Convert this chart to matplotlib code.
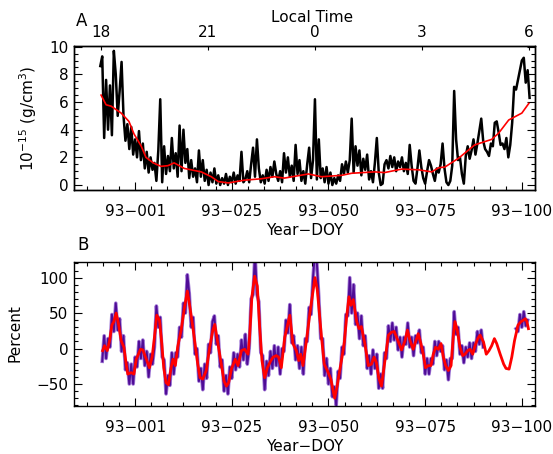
"""
Two-panel plot: density (A) and percent deviation (B) vs Year-DOY, local time on top.
Output: out.png (553x454)
"""

import numpy as np
import matplotlib.pyplot as plt
from matplotlib.ticker import MultipleLocator, FixedLocator, NullLocator

nan = np.nan

# ---- panel A: density, 10^-15 g/cm^3 (0.5-day samples from day -9; day 0 = 93-001) ----
dens_start, dens_step = -9.0, 0.5
dens_raw = [
    8.6, 9.3, 3.4, 7.6, 4.0, 7.2, 3.6, 9.7, 8.0, 5.0,
    6.8, 8.9, 5.0, 3.2, 4.4, 2.6, 4.2, 2.2, 3.3, 2.0,
    3.9, 1.8, 3.0, 1.2, 2.4, 0.9, 2.0, 1.1, 1.6, 0.3,
    2.5, 6.2, 0.2, 2.8, 0.8, 2.1, 1.0, 3.4, 1.2, 2.3,
    0.6, 4.3, 1.0, 4.0, 1.6, 2.6, 0.5, 1.8, 0.6, 1.2,
    0.2, 2.5, 0.6, 1.8, 0.3, 1.1, 0.0, 0.9, 0.2, 1.2,
    0.1, 0.7, 0.0, 0.5, 0.1, 0.8, 0.0, 0.6, 0.2, 0.9,
    0.1, 0.7, 0.3, 2.4, 0.2, 0.4, 1.0, 0.2, 1.5, 2.7,
    0.6, 3.3, 1.2, 0.2, 0.7, 0.1, 1.1, 0.3, 1.3, 0.6,
    1.7, 0.8, 0.3, 1.0, 0.2, 2.3, 0.9, 2.0, 0.6, 1.4,
    0.3, 2.9, 0.8, 1.8, 0.3, 1.0, 0.1, 1.5, 2.7, 0.5,
    1.8, 6.2, 0.4, 3.3, 0.5, 1.2, 0.2, 1.3, 0.1, 0.9,
    0.0, 0.5, 0.1, 0.7, 0.3, 1.5, 0.8, 1.7, 0.9, 1.8,
    4.8, 0.9, 2.8, 1.4, 2.5, 0.7, 1.9, 1.1, 2.2, 0.4,
    1.0, 0.2, 1.6, 3.4, 0.9, 0.0, 0.1, 1.5, 1.8, 1.2,
    2.1, 1.3, 2.0, 1.0, 1.7, 1.3, 2.0, 1.0, 1.6, 0.8,
    2.9, 1.4, 0.3, 0.1, 1.2, 2.5, 1.3, 0.5, 0.1, 1.0,
    1.8, 1.4, 0.8, 0.3, 1.2, 0.9, 1.5, 3.0, 1.2, 0.2,
    0.0, 0.3, 1.4, 6.8, 3.3, 1.8, 2.0, 0.8, 0.1, 2.1,
    2.8, 1.9, 2.5, 3.3, 2.2, 3.0, 3.9, 4.8, 3.2, 2.6,
    2.4, 2.1, 3.0, 2.8, 4.5, 4.6, 3.8, 2.9, 3.0, 2.6,
    3.4, 2.0, 2.9, 4.5, 7.1, 6.9, 7.6, 8.3, 9.0, 9.2,
    7.4, 8.3, 6.3,
]
dens_smooth_day = [-8.8, -7.5, -6.2, -3.6, -1.6, -0.3, 1.6, 2.8, 4.7, 6.7,
                   8.5, 10.1, 12.7, 17.1, 19.7, 21.5, 24.1, 28.2, 32.6, 36.0,
                   38.6, 44.8, 48.2, 53.4, 56.0, 61.9, 64.5, 68.9, 73.3, 76.7,
                   78.5, 80.1, 83.7, 87.8, 92.2, 94.0, 96.6, 100.0, 101.8]
dens_smooth = [6.5, 5.8, 5.7, 5.2, 4.6, 3.7, 2.8, 2.0, 1.6, 1.35,
               1.4, 1.6, 1.2, 0.95, 0.6, 0.25, 0.15, 0.35, 0.45, 0.6,
               0.5, 0.8, 0.6, 0.7, 0.85, 0.95, 0.9, 1.15, 1.1, 0.95,
               1.25, 1.3, 1.95, 2.9, 3.3, 3.75, 4.7, 5.2, 5.9]

# ---- panel B: percent deviation (0.5-day samples from day -8.5, gap near day 91-98) ----
pct_start, pct_step = -8.5, 0.5
pct_raw = [
    -18, 18, -14, 14, 2, 48, 24, 64, 26, 42,
    -4, 18, -30, -20, -50, -22, -50, -12, -26, 10,
    -14, 12, -24, -4, -40, -8, -22, 2, 60, 30,
    44, -12, -16, -64, -38, -52, -6, -36, -6, -12,
    30, 16, 64, 50, 104, 78, 30, 44, -8, 0,
    -46, -28, -58, -22, -42, 6, -6, 38, 46, 6,
    18, -26, -16, -60, -38, -64, -26, -42, -6, -30,
    -8, -26, 12, -16, 20, -22, 0, 70, 76, 135,
    76, 66, -6, -10, -58, -18, -38, -4, -28, 4,
    -24, 2, -36, 0, -4, 40, 22, 62, 8, 18,
    -16, 4, -28, 2, -36, 14, 10, 58, 48, 100,
    135, 120, 72, 14, 14, -38, -14, -50, -28, -68,
    -54, -80, -32, -42, 2, -8, 48, 46, 100, 50,
    90, 34, 50, 14, 46, 4, 18, -28, -10, -36,
    -2, -28, -8, -56, -36, -56, -6, -14, 32, 10,
    36, 12, 30, -2, 16, -12, 16, 6, 36, 2,
    16, -10, 18, 8, 26, -6, 2, -36, -14, -36,
    -14, -22, 10, -10, 10, -4, 4, -30, -16, -44,
    -14, -14, 52, 20, 30, -8, 4, -20, 2, -12,
    8, -14, 8, -4, 24, 6, 26, 2,
    nan, nan, nan, nan, nan, nan, nan, nan,
    nan, nan, nan, nan, nan, nan, nan, nan,
    28, 24, 48, 30, 52, 32, 40,
]
pct_smooth_day = [
    -8.4, -7.9, -7.2, -6.6, -6.0, -5.5, -4.9, -4.3, -3.6, -2.9,
    -2.3, -1.9, -1.0, -0.3, 0.3, 1.4, 2.0, 2.9, 3.7, 4.4,
    5.0, 5.6, 6.3, 6.9, 7.4, 8.0, 8.6, 9.3, 9.8, 10.4,
    11.0, 11.9, 12.8, 13.5, 14.1, 14.9, 15.6, 16.2, 16.8, 17.5,
    18.4, 19.3, 20.1, 20.6, 21.2, 22.3, 23.0, 23.6, 24.2, 24.9,
    25.9, 26.6, 27.5, 28.3, 29.2, 29.6, 30.2, 30.9, 31.6, 32.2,
    32.8, 33.5, 34.2, 35.1, 35.7, 36.5, 37.1, 37.8, 38.7, 39.4,
    40.0, 40.8, 41.7, 42.3, 42.8, 43.4, 44.3, 45.2, 45.8, 46.5,
    47.1, 47.6, 48.2, 48.9, 49.7, 50.6, 51.6, 52.3, 52.9, 53.5,
    54.1, 54.7, 55.3, 55.8, 56.4, 57.3, 57.9, 58.5, 59.4, 60.3,
    61.1, 61.8, 62.4, 63.0, 63.7, 64.6, 65.5, 66.3, 67.0, 67.9,
    68.9, 69.8, 70.4, 71.1, 71.9, 72.5, 73.2, 73.9, 74.5, 75.1,
    75.8, 76.5, 77.1, 77.7, 78.4, 79.1, 79.7, 80.3, 81.0, 81.7,
    82.3, 82.7, 83.3, 84.0, 84.7, 85.3, 86.0, 86.6, 87.3, 87.9,
    88.6, 89.2, 90.1, 90.8, 91.5, 92.2, 92.9, 93.5, 94.4, 95.3,
    95.9, 96.7, 97.4, 98.1, 99.0, 99.8, 100.4, 100.9, 101.3, 101.7,
]
pct_smooth = [
    -3, 4, -3, 11, 33, 38, 50, 35, 11, 2,
    -22, -36, -34, -36, -15, -1, -2, -15, -27, -12,
    16, 47, 40, 7, -27, -48, -51, -27, -15, -24,
    2, 26, 59, 81, 61, 31, 2, -22, -41, -43,
    -31, 2, 26, 34, 14, -22, -46, -53, -48, -29,
    -15, -24, -3, -1, -8, 16, 73, 102, 88, 31,
    -17, -41, -27, -17, -12, -10, -12, -27, 16, 33,
    47, 7, -3, -17, -8, -24, 11, 50, 73, 100,
    83, 52, 16, -22, -31, -43, -70, -51, -31, -12,
    9, 45, 73, 61, 69, 38, 28, 31, 7, -24,
    -22, -12, -20, -41, -53, -17, 19, 23, 24, 12,
    -2, 11, 26, 11, -1, 9, 21, 7, -8, -27,
    -24, -24, -8, 2, -1, 7, -12, -24, -31, -24,
    19, 38, 26, 2, -10, -8, -3, -1, -8, 4,
    14, 19, 9, -8, -3, 4, 14, 7, -8, -22,
    -28, -29, -12, 11, 33, 38, 40, 42, 38, 28,
]

doy_ticks = [0, 25, 50, 75, 100]
doy_labels = ["93\u2212001", "93\u2212025", "93\u2212050", "93\u2212075", "93\u2212100"]
lt_labels = ["18", "21", "0", "3", "6"]
lt_first_day, lt_last_day = -8.9, 101.8   # days where LT 18 and LT 6 fall
xlim = (-15.8, 103.4)

W, H = 553, 454
FS = 11
plt.rcParams.update({
    "font.family": "DejaVu Sans",
    "font.size": FS,
    "axes.linewidth": 1.0,
})

fig = plt.figure(figsize=(W / 100, H / 100), dpi=100)
fig.patch.set_facecolor("white")


def box(left, top, right, bottom):
    return [left / W, 1 - bottom / H, (right - left) / W, (bottom - top) / H]


ax_a = fig.add_axes(box(74, 46, 535, 190))
ax_b = fig.add_axes(box(74, 262, 535, 406))


def style_time_axis(ax, top):
    ax.set_xlim(*xlim)
    ax.xaxis.set_major_locator(FixedLocator(doy_ticks))
    ax.set_xticklabels(doy_labels)
    ax.xaxis.set_minor_locator(MultipleLocator(25 / 6))
    ax.tick_params(axis="both", which="both", direction="in", right=True, top=top)
    ax.tick_params(axis="both", which="major", length=6, width=0.8)
    ax.tick_params(axis="both", which="minor", length=3, width=0.8)
    ax.tick_params(axis="x", which="major", pad=10, labelsize=FS)
    ax.tick_params(axis="y", which="major", pad=4, labelsize=FS)
    ax.set_xlabel("Year\u2212DOY", fontsize=FS, labelpad=3)


# ---- panel A ----
dens_day = dens_start + dens_step * np.arange(len(dens_raw))
ax_a.plot(dens_day, dens_raw, color="black", lw=1.8, zorder=2)
ax_a.plot(dens_smooth_day, dens_smooth, color="red", lw=1.2, zorder=3)
ax_a.set_ylim(-0.36, 10.05)
ax_a.yaxis.set_major_locator(MultipleLocator(2))
ax_a.yaxis.set_minor_locator(MultipleLocator(0.5))
style_time_axis(ax_a, top=False)

lt = ax_a.twiny()
lt.set_xlim(*xlim)
lt.xaxis.set_major_locator(FixedLocator(np.linspace(lt_first_day, lt_last_day, len(lt_labels))))
lt.set_xticklabels(lt_labels)
lt.xaxis.set_minor_locator(NullLocator())
lt.tick_params(axis="x", direction="in", length=3, width=0.8, pad=4, labelsize=FS)

fig.text(312 / W, 1 - 18 / H, "Local Time", ha="center", va="center", fontsize=FS)
fig.text(82 / W, 1 - 21 / H, "A", ha="center", va="center", fontsize=FS + 1)
fig.text(28 / W, 1 - 118 / H, r"10$^{-15}$ (g/cm$^3$)", ha="center", va="center",
         rotation=90, fontsize=FS)

# ---- panel B ----
pct_day = pct_start + pct_step * np.arange(len(pct_raw))
ax_b.plot(pct_day, pct_raw, color="#a27ad6", lw=2.6, zorder=1)
ax_b.plot(pct_day, pct_raw, color="#4f0c96", lw=1.4, zorder=2)
ax_b.plot(pct_smooth_day, pct_smooth, color="red", lw=2.0, zorder=3)
ax_b.set_ylim(-81, 122)
ax_b.yaxis.set_major_locator(MultipleLocator(50))
ax_b.yaxis.set_minor_locator(MultipleLocator(10))
style_time_axis(ax_b, top=True)

fig.text(83 / W, 1 - 245 / H, "B", ha="center", va="center", fontsize=FS + 1)
fig.text(15 / W, 1 - 333 / H, "Percent", ha="center", va="center", rotation=90, fontsize=FS)

fig.savefig("out.png", dpi=100, facecolor="white")
